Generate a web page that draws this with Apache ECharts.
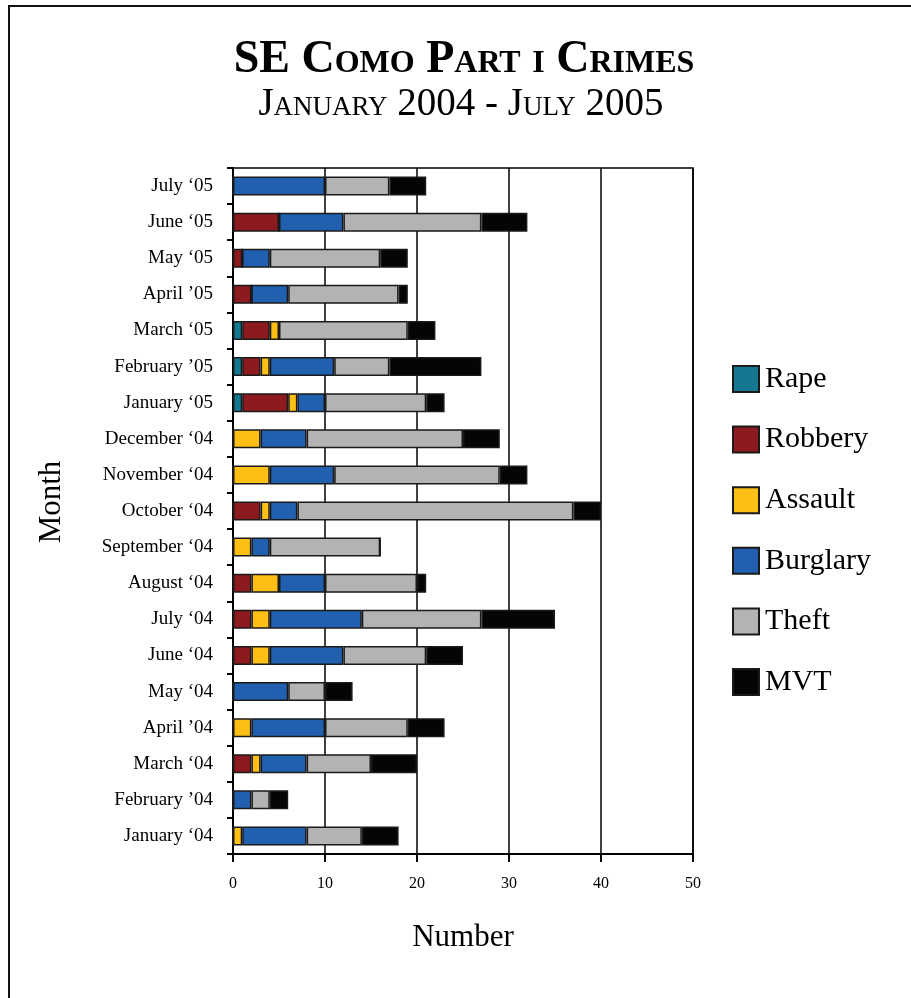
<!DOCTYPE html>
<html>
<head>
<meta charset="utf-8">
<script src="https://cdn.jsdelivr.net/npm/echarts@6/dist/echarts.min.js"></script>
<style>
  html, body { margin: 0; padding: 0; background: #fff; }
  #chart { width: 911px; height: 998px; }
</style>
</head>
<body>
<div id="chart"></div>
<script>
// Months, listed bottom (oldest) to top (newest)
const months = [
  'January \u201804', 'February \u201904', 'March \u201804', 'April \u201904',
  'May \u201804', 'June \u201804', 'July \u201804', 'August \u201804',
  'September \u201804', 'October \u201804', 'November \u201804', 'December \u201804',
  'January \u201805', 'February \u201905', 'March \u201805', 'April \u201905',
  'May \u201805', 'June \u201805', 'July \u201805'
];

// Monthly counts by offence type
const rape     = [0, 0, 0, 0, 0, 0, 0, 0, 0, 0, 0, 0, 1, 1, 1, 0, 0, 0, 0];
const robbery  = [0, 0, 2, 0, 0, 2, 2, 2, 0, 3, 0, 0, 5, 2, 3, 2, 1, 5, 0];
const assault  = [1, 0, 1, 2, 0, 2, 2, 3, 2, 1, 4, 3, 1, 1, 1, 0, 0, 0, 0];
const burglary = [7, 2, 5, 8, 6, 8, 10, 5, 2, 3, 7, 5, 3, 7, 0, 4, 3, 7, 10];
const theft    = [6, 2, 7, 9, 4, 9, 13, 10, 12, 30, 18, 17, 11, 6, 14, 12, 12, 15, 7];
const mvt      = [4, 2, 5, 4, 3, 4, 8, 1, 0, 3, 3, 4, 2, 10, 3, 1, 3, 5, 4];

const xTicks = [0, 10, 20, 30, 40, 50];

const seriesNames  = ['Rape', 'Robbery', 'Assault', 'Burglary', 'Theft', 'MVT'];
const seriesData   = [rape, robbery, assault, burglary, theft, mvt];
const seriesColors = ['#147990', '#8c1a1f', '#fdbf16', '#2160ae', '#b3b3b3', '#050505'];

const FONT = '"Liberation Serif", "Times New Roman", serif';

const chart = echarts.init(document.getElementById('chart'), null, { renderer: 'canvas' });

chart.setOption({
  backgroundColor: '#ffffff',
  animation: false,
  textStyle: { fontFamily: FONT, color: '#000' },
  title: [
    {
      text: 'SE Como Part i Crimes',
      left: 459, top: 32, textAlign: 'center',
      textStyle: { fontFamily: FONT, fontStyle: 'small-caps', fontWeight: 'bold', fontSize: 46, color: '#000' }
    },
    {
      text: 'January 2004 - July 2005',
      left: 456, top: 80, textAlign: 'center',
      textStyle: { fontFamily: FONT, fontStyle: 'small-caps', fontWeight: 'normal', fontSize: 39, color: '#000' }
    }
  ],
  graphic: [
    {
      type: 'rect',
      shape: { x: 9, y: 6, width: 1000, height: 1100 },
      style: { fill: 'none', stroke: '#111', lineWidth: 2 },
      silent: true
    }
  ],
  legend: {
    orient: 'vertical',
    left: 727, top: 359,
    itemWidth: 26, itemHeight: 26, itemGap: 30.6,
    icon: 'rect',
    data: seriesNames,
    selectedMode: false,
    textStyle: { fontFamily: FONT, fontSize: 30, color: '#000', padding: [0, 0, 0, 1] }
  },
  grid: {
    left: 233, right: 218, top: 168, bottom: 144,
    show: true, borderColor: '#000', borderWidth: 1.5, backgroundColor: 'transparent'
  },
  xAxis: {
    type: 'value',
    min: xTicks[0], max: xTicks[xTicks.length - 1], interval: 10,
    name: 'Number', nameLocation: 'middle', nameGap: 68,
    nameTextStyle: { fontFamily: FONT, fontSize: 31, color: '#000' },
    axisLine: { show: true, lineStyle: { color: '#000', width: 2 } },
    axisTick: { show: true, length: 8, lineStyle: { color: '#000', width: 2 } },
    axisLabel: { fontFamily: FONT, fontSize: 16, color: '#000', margin: 22 },
    splitLine: { show: true, lineStyle: { color: '#000', width: 1.5 } }
  },
  yAxis: {
    type: 'category',
    data: months,
    name: 'Month', nameLocation: 'middle', nameGap: 166, nameRotate: 90,
    nameTextStyle: { fontFamily: FONT, fontSize: 31, color: '#000', padding: [0, 0, 0, 18] },
    axisLine: { show: true, lineStyle: { color: '#000', width: 2 } },
    axisTick: { show: true, length: 6, lineStyle: { color: '#000', width: 2 } },
    axisLabel: { fontFamily: FONT, fontSize: 19, color: '#000', margin: 20 },
    splitLine: { show: false }
  },
  series: seriesNames.map((name, i) => ({
    name: name,
    type: 'bar',
    stack: 'crimes',
    barWidth: 19,
    data: seriesData[i],
    itemStyle: { color: seriesColors[i], borderColor: '#1a1a1a', borderWidth: 1.5 },
    emphasis: { disabled: true }
  }))
});
</script>
</body>
</html>
